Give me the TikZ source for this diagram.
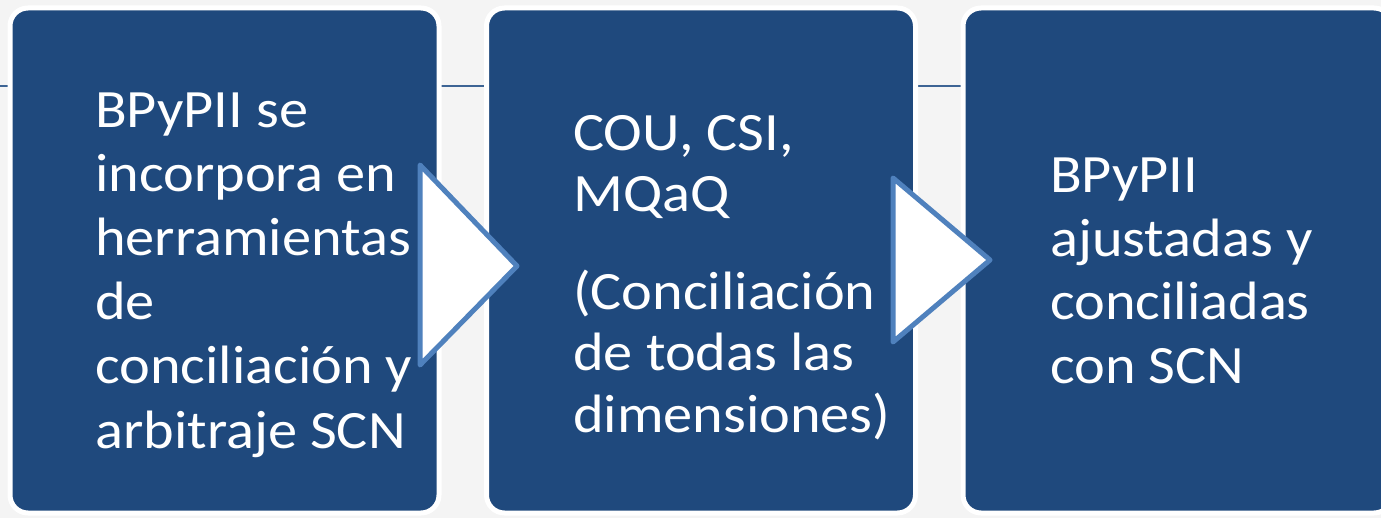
\documentclass[tikz,border=0pt]{standalone}
\usepackage{fontspec}
\setmainfont{Carlito}[FakeStretch=1.08]
\definecolor{bg}{HTML}{F4F4F4}
\definecolor{boxblue}{HTML}{1F497D}
\definecolor{tri}{HTML}{4F81BD}
\definecolor{linec}{HTML}{3D6494}
\begin{document}
\begin{tikzpicture}[x=1pt,y=-1pt,
  stepbox/.style={fill=boxblue,draw=white,line width=5pt,rounded corners=18pt,
    minimum width=429pt,minimum height=505pt,anchor=north west,inner sep=0pt,outer sep=0pt},
  boxtext/.style={text=white,align=left,anchor=base west,inner sep=0pt},
  chevron/.style={fill=white,draw=tri,line width=5pt,line join=round}]
\fill[bg] (0,0) rectangle (1381,518);
\useasboundingbox (0,0) rectangle (1381,518);
\coordinate (lineL) at (0,86);
\coordinate (lineR) at (1381,86);
\draw[linec,line width=2pt] (lineL) -- (lineR);
\node[stepbox] (b1) at (10,8) {};
\node[stepbox] (b2) at (486.5,8) {};
\node[stepbox] (b3) at (963,8) {};
\draw[chevron] (420,165) -- (517,266) -- (420,365) -- cycle;
\draw[chevron] (893,178) -- (990,260) -- (893,342) -- cycle;
\node[boxtext,font=\fontsize{54}{64.2}\selectfont] (t1) at (95,448)
  {BPyPII se\\incorpora en\\herramientas\\de\\conciliación y\\arbitraje SCN};
\node[boxtext,font=\fontsize{54}{61.5}\selectfont] (t2) at (573,432)
  {COU, CSI,\\MQaQ\\[36pt](Conciliación\\de todas las\\dimensiones)};
\node[boxtext,font=\fontsize{54}{63.5}\selectfont] (t3) at (1050,383)
  {BPyPII\\ajustadas y\\conciliadas\\con SCN};
\end{tikzpicture}
\end{document}
